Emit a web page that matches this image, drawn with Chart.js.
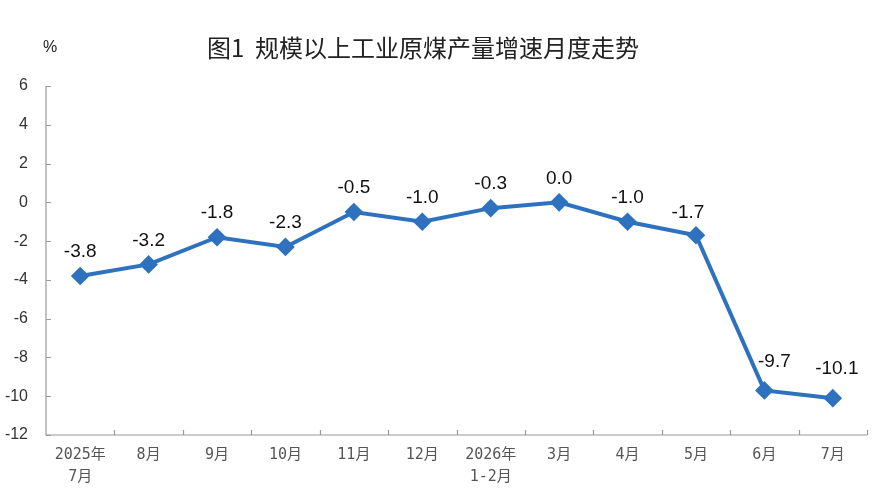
<!DOCTYPE html>
<html><head><meta charset="utf-8">
<script src="https://cdn.jsdelivr.net/npm/chart.js@4.4.1/dist/chart.umd.min.js"></script>
<style>html,body{margin:0;padding:0;background:#fff;}#wrap{width:883px;height:496px;}</style>
</head><body><div id="wrap"><canvas id="c" width="883" height="496"></canvas></div>
<script>
const categories = [["2025年","7月"],"8月","9月","10月","11月","12月",["2026年","1-2月"],"3月","4月","5月","6月","7月"];
const growth = [-3.8,-3.2,-1.8,-2.3,-0.5,-1.0,-0.3,0.0,-1.0,-1.7,-9.7,-10.1];
const yTicks = [-12,-10,-8,-6,-4,-2,0,2,4,6];
const titleText = "图1  规模以上工业原煤产量增速月度走势";
const unitText = "%";

const lineColor = "#2E72BF";
const axisColor = "#9a9a9a";
const labelShift = { 9: [-8, 23], 10: [10, 29], 11: [4, 29] };

const decor = {
  id: "decor",
  afterDraw(chart) {
    const ctx = chart.ctx;
    const xs = chart.scales.x, ys = chart.scales.y;
    ctx.save();
    ctx.strokeStyle = axisColor; ctx.lineWidth = 1.2;
    ctx.beginPath();
    ctx.moveTo(xs.left, ys.top); ctx.lineTo(xs.left, ys.bottom); ctx.lineTo(xs.right, ys.bottom);
    ctx.stroke();
    ctx.beginPath();
    yTicks.forEach(v => { const y = Math.round(ys.getPixelForValue(v)) + 0.5; ctx.moveTo(xs.left, y); ctx.lineTo(xs.left + 5, y); });
    const n = categories.length;
    const w = (xs.right - xs.left) / n;
    for (let i = 1; i <= n; i++) { const x = Math.round(xs.left + i * w) + 0.5; ctx.moveTo(x, ys.bottom); ctx.lineTo(x, ys.bottom - 5); }
    ctx.stroke();
    ctx.fillStyle = "#222";
    ctx.font = "400 24px 'Noto Sans CJK SC'";
    ctx.textAlign = "left"; ctx.textBaseline = "middle";
    ctx.fillText(titleText, 207, 48);
    ctx.textAlign = "center";
    ctx.font = "16px 'Liberation Sans'";
    ctx.fillStyle = "#222";
    ctx.fillText(unitText, 50, 48);
    ctx.font = "19px 'Liberation Sans'";
    ctx.fillStyle = "#111";
    const meta = chart.getDatasetMeta(0);
    meta.data.forEach((p, i) => {
      const s = labelShift[i] || [0, 24];
      ctx.fillText(growth[i].toFixed(1), p.x + s[0], p.y - s[1]);
    });
    ctx.restore();
  }
};

new Chart(document.getElementById("c"), {
  type: "line",
  data: { labels: categories, datasets: [{
    data: growth, borderColor: lineColor, backgroundColor: lineColor, borderWidth: 4,
    pointStyle: "rectRot", pointRadius: 6.5, pointHoverRadius: 6.5, pointBackgroundColor: lineColor, pointBorderColor: lineColor,
    tension: 0, clip: false
  }]},
  options: {
    responsive: false, animation: false, devicePixelRatio: 1,
    layout: { padding: { top: 86, right: 16, left: 0, bottom: 0 } },
    plugins: { legend: { display: false }, title: { display: false }, tooltip: { enabled: false } },
    scales: {
      x: {
        offset: true,
        grid: { display: false, drawTicks: false },
        border: { display: false },
        ticks: { color: "#555", font: { family: "'DejaVu Sans Mono','Noto Sans CJK SC'", size: 15, lineHeight: 1.45 }, padding: 9, maxRotation: 0, autoSkip: false },
        afterFit(s) { s.height = 61; }
      },
      y: {
        min: -12, max: 6,
        afterBuildTicks(s) { s.ticks = yTicks.map(v => ({ value: v })); },
        grid: { display: false, drawTicks: false },
        border: { display: false },
        ticks: { color: "#333", font: { family: "'Liberation Sans'", size: 16 }, padding: 18 },
        afterFit(s) { s.width = 46; }
      }
    }
  },
  plugins: [decor]
});
</script></body></html>
